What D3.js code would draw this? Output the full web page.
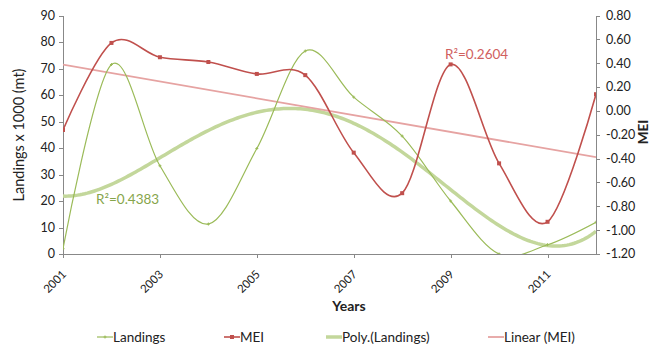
<!DOCTYPE html>
<html>
<head>
<meta charset="utf-8">
<script src="https://cdn.jsdelivr.net/npm/d3@7/dist/d3.min.js"></script>
<style>
  html, body { margin: 0; padding: 0; background: #fff; }
  svg { display: block; font-family: Lato, "Open Sans", sans-serif; }
</style>
</head>
<body>
<svg id="chart" width="650" height="346"></svg>
<script>
// Annual landings (x 1000 mt) and Multivariate ENSO Index
const years = [2001, 2002, 2003, 2004, 2005, 2006, 2007, 2008, 2009, 2010, 2011, 2012];
const landings = [2.0, 71.5, 33.3, 11.3, 39.8, 76.6, 59.2, 44.5, 20.0, 0.0, 3.5, 12.0];
const mei = [-0.16, 0.57, 0.45, 0.41, 0.31, 0.30, -0.35, -0.69, 0.39, -0.44, -0.93, 0.14];

const xTickYears = [2001, 2003, 2005, 2007, 2009, 2011];
const leftTicks = [0, 10, 20, 30, 40, 50, 60, 70, 80, 90];
const rightTicks = [-1.2, -1.0, -0.8, -0.6, -0.4, -0.2, 0.0, 0.2, 0.4, 0.6, 0.8];
const legendLabels = ["Landings", "MEI", "Poly.(Landings)", "Linear (MEI)"];
const polyOrder = 4;
const r2Labels = ["R\u00b2=0.4383", "R\u00b2=0.2604"];

const C = {
  land: "#9BBB59", mei: "#C0504D", poly: "#C3D79B", lin: "#E6A3A2",
  polyTxt: "#86A54B", linTxt: "#D0605E", axis: "#888888", text: "#222"
};

const svg = d3.select("#chart");
const L = 63, R = 596, T = 15.5, B = 254;

const x = d3.scaleLinear().domain([2001, 2012]).range([L, R]);
const yL = d3.scaleLinear().domain([0, 90]).range([B, T]);
const yR = d3.scaleLinear().domain([-1.2, 0.8]).range([B, T]);

// least squares polynomial fit, x measured as period index 1..n
function polyFit(xs, ys, order) {
  const m = order + 1;
  const A = Array.from({length: m}, () => new Array(m + 1).fill(0));
  xs.forEach((xv, i) => {
    for (let r = 0; r < m; r++) {
      for (let c = 0; c < m; c++) A[r][c] += Math.pow(xv, r + c);
      A[r][m] += ys[i] * Math.pow(xv, r);
    }
  });
  for (let i = 0; i < m; i++) {
    let p = i;
    for (let k = i + 1; k < m; k++) if (Math.abs(A[k][i]) > Math.abs(A[p][i])) p = k;
    [A[i], A[p]] = [A[p], A[i]];
    for (let k = i + 1; k < m; k++) {
      const f = A[k][i] / A[i][i];
      for (let c = i; c <= m; c++) A[k][c] -= f * A[i][c];
    }
  }
  const coef = new Array(m).fill(0);
  for (let i = m - 1; i >= 0; i--) {
    let s = A[i][m];
    for (let c = i + 1; c < m; c++) s -= A[i][c] * coef[c];
    coef[i] = s / A[i][i];
  }
  return t => coef.reduce((acc, a, k) => acc + a * Math.pow(t, k), 0);
}
const idx = years.map((d, i) => i + 1);
const polyFn = polyFit(idx, landings, polyOrder);
const linFn = polyFit(idx, mei, 1);

// clip region = plot area
svg.append("defs").append("clipPath").attr("id", "plot")
  .append("rect").attr("x", L).attr("y", T - 1).attr("width", R - L).attr("height", B - T + 1);

// axes
const gAx = svg.append("g").attr("stroke", C.axis).attr("stroke-width", 1).attr("shape-rendering", "crispEdges");
gAx.append("line").attr("x1", L).attr("x2", L).attr("y1", T).attr("y2", B);
gAx.append("line").attr("x1", R).attr("x2", R).attr("y1", T).attr("y2", B);
gAx.append("line").attr("x1", L).attr("x2", R).attr("y1", B).attr("y2", B);
leftTicks.forEach(v => gAx.append("line").attr("x1", L - 4).attr("x2", L).attr("y1", Math.round(yL(v))).attr("y2", Math.round(yL(v))));
rightTicks.forEach(v => gAx.append("line").attr("x1", R).attr("x2", R + 4).attr("y1", Math.round(yR(v))).attr("y2", Math.round(yR(v))));
xTickYears.forEach(v => gAx.append("line").attr("x1", Math.round(x(v))).attr("x2", Math.round(x(v))).attr("y1", B).attr("y2", B + 4));

svg.append("g").selectAll("text").data(leftTicks).join("text")
  .attr("x", L - 8).attr("y", d => yL(d)).attr("dy", "0.35em")
  .attr("text-anchor", "end").attr("font-size", 12.5).attr("fill", C.text).text(d => d);
svg.append("g").selectAll("text").data(rightTicks).join("text")
  .attr("x", R + 10).attr("y", d => yR(d)).attr("dy", "0.35em")
  .attr("text-anchor", "start").attr("font-size", 12.5).attr("fill", C.text).text(d => d.toFixed(2));
svg.append("g").selectAll("text").data(xTickYears).join("text")
  .attr("transform", d => `translate(${x(d) + 4},${B + 21}) rotate(-45)`)
  .attr("text-anchor", "end").attr("font-size", 11.5).attr("fill", C.text).text(d => d);

svg.append("text").attr("transform", `translate(19,135) rotate(-90)`)
  .attr("text-anchor", "middle").attr("dy", "0.35em").attr("font-size", 14.5).attr("fill", C.text)
  .text("Landings x 1000 (mt)");
svg.append("text").attr("transform", `translate(643,132) rotate(-90)`)
  .attr("text-anchor", "middle").attr("dy", "0.35em").attr("font-size", 13.5).attr("font-weight", "bold").attr("fill", C.text)
  .text("MEI");
svg.append("text").attr("x", 349).attr("y", 311).attr("text-anchor", "middle")
  .attr("font-size", 14).attr("font-weight", "bold").attr("fill", C.text).text("Years");

const plot = svg.append("g").attr("clip-path", "url(#plot)");
const curve = d3.curveCatmullRom.alpha(0);

// trendlines
const fine = d3.range(0, 11.001, 0.05).map(t => t + 1);
plot.append("path").attr("fill", "none").attr("stroke", C.poly).attr("stroke-width", 3.5)
  .attr("d", d3.line().x(t => x(2000 + t)).y(t => yL(polyFn(t)))(fine));
plot.append("path").attr("fill", "none").attr("stroke", C.lin).attr("stroke-width", 1.8)
  .attr("d", d3.line().x(t => x(2000 + t)).y(t => yR(linFn(t)))([1, 12]));

// series
plot.append("path").attr("fill", "none").attr("stroke", C.land).attr("stroke-width", 1.2)
  .attr("d", d3.line().curve(curve).x((d, i) => x(years[i])).y(d => yL(d))(landings));
plot.append("path").attr("fill", "none").attr("stroke", C.mei).attr("stroke-width", 1.6)
  .attr("d", d3.line().curve(curve).x((d, i) => x(years[i])).y(d => yR(d))(mei));

plot.append("g").selectAll("path").data(landings).join("path")
  .attr("transform", (d, i) => `translate(${x(years[i])},${yL(d)})`)
  .attr("d", "M-1.5,0H1.5M0,-1.5V1.5").attr("stroke", C.land).attr("stroke-width", 1);
plot.append("g").selectAll("rect").data(mei).join("rect")
  .attr("x", (d, i) => x(years[i]) - 2).attr("y", d => yR(d) - 2)
  .attr("width", 4).attr("height", 4).attr("fill", C.mei);

// R² labels
svg.append("text").attr("x", 96).attr("y", 204).attr("font-size", 13.5).attr("fill", C.polyTxt).text(r2Labels[0]);
svg.append("text").attr("x", 445).attr("y", 59).attr("font-size", 13.5).attr("fill", C.linTxt).text(r2Labels[1]);

// legend
const legX = [97, 224, 326, 488];
const lg = svg.append("g").attr("transform", "translate(0,337)");
const sw = [
  {c: C.land, w: 1.2, m: "cross"}, {c: C.mei, w: 1.6, m: "square"},
  {c: C.poly, w: 3.5, m: null}, {c: C.lin, w: 1.8, m: null}
];
legendLabels.forEach((t, i) => {
  const g = lg.append("g").attr("transform", `translate(${legX[i]},0)`);
  g.append("line").attr("x1", 0).attr("x2", 16).attr("stroke", sw[i].c).attr("stroke-width", sw[i].w);
  if (sw[i].m === "cross") g.append("path").attr("d", "M6.5,0H9.5M8,-1.5V1.5").attr("stroke", sw[i].c);
  if (sw[i].m === "square") g.append("rect").attr("x", 6).attr("y", -2).attr("width", 4).attr("height", 4).attr("fill", sw[i].c);
  g.append("text").attr("x", 16).attr("dy", "0.35em").attr("font-size", 13.5).attr("fill", C.text).text(t);
});
</script>
</body>
</html>
